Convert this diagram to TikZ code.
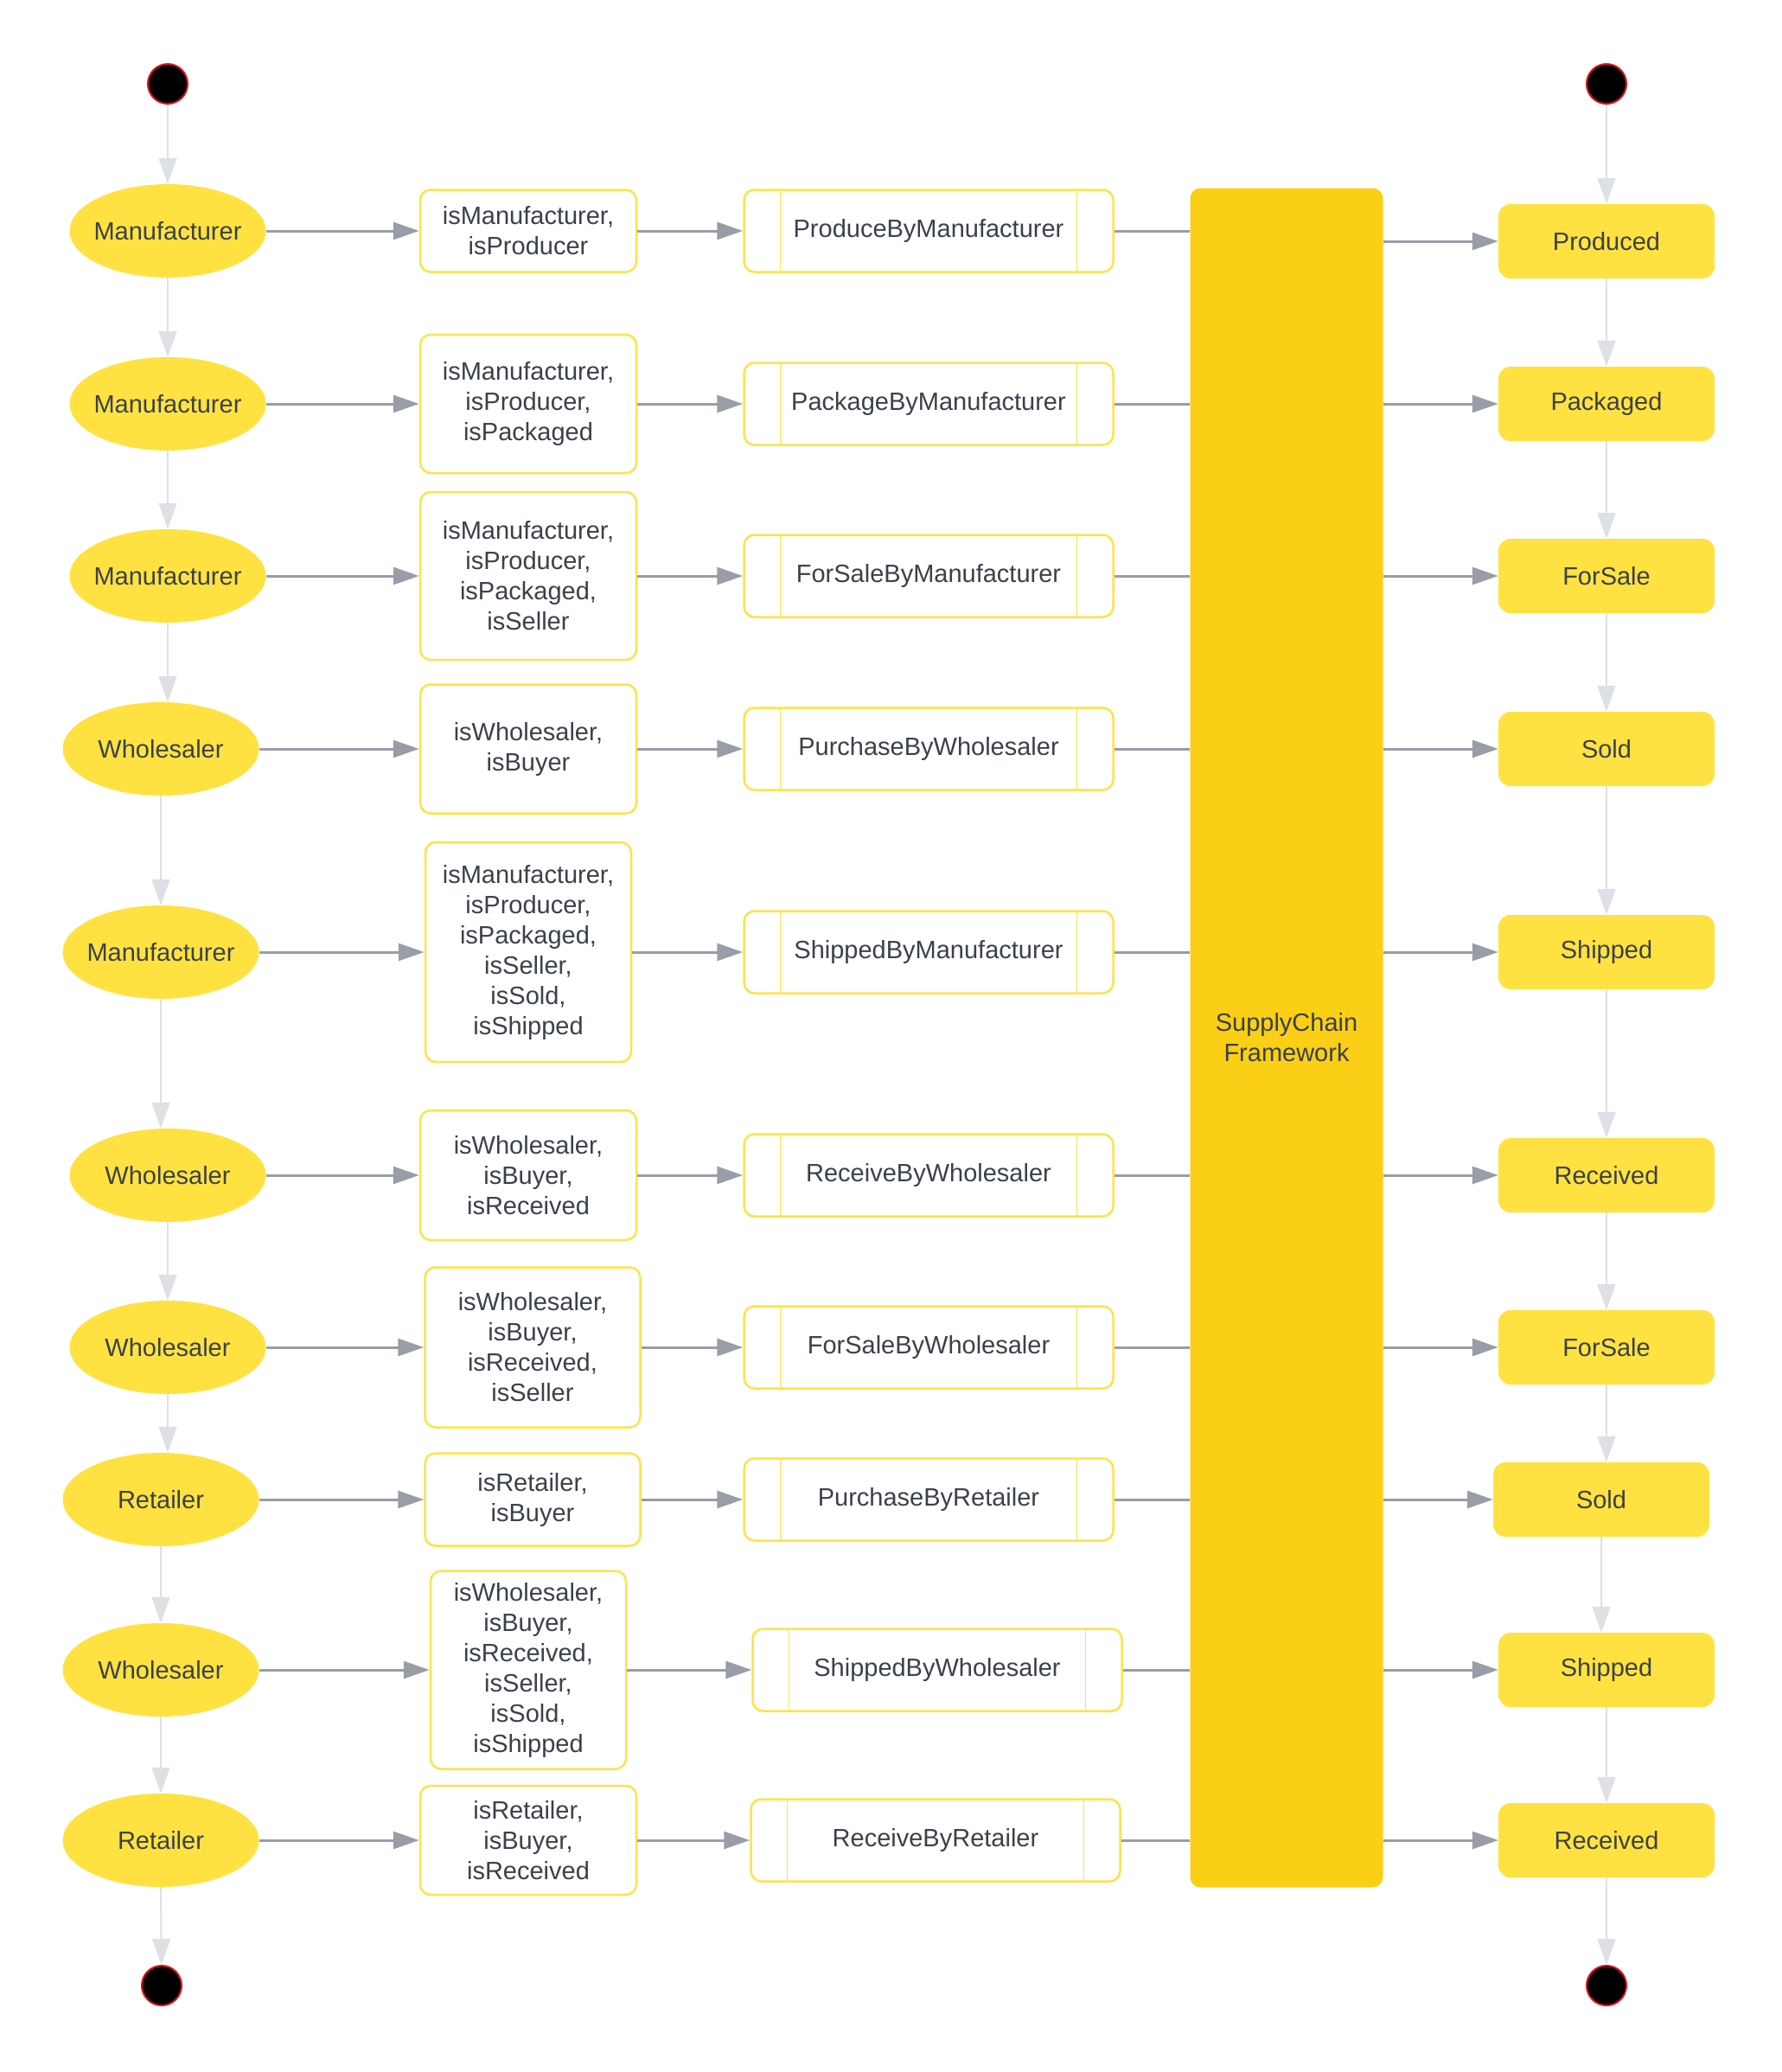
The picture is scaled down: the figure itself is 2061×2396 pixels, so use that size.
\documentclass[tikz,border=0pt]{standalone}
\usepackage{fontspec}
\setmainfont{Liberation Sans}
\usepackage{xcolor}
\usepackage{tikz}
\usetikzlibrary{arrows.meta}
\usetikzlibrary{shapes.geometric}
\definecolor{YellowFill}{HTML}{FFE241}
\definecolor{YellowBar}{HTML}{FACF16}
\definecolor{YellowEdge}{HTML}{FFE24A}
\definecolor{InkGrey}{HTML}{3A414A}
\definecolor{ArrowGrey}{HTML}{989DA7}
\definecolor{FlowGrey}{HTML}{DDE0E5}
\definecolor{DotRed}{HTML}{E3121A}

\tikzset{
  label font/.style = {font=\fontsize{29}{35}\selectfont, text=InkGrey},
  dot/.style = {circle, fill=black, draw=DotRed, line width=2pt, minimum size=46pt, inner sep=0pt},
  actor/.style = {ellipse, fill=YellowFill, minimum width=227pt, minimum height=108pt,
    inner xsep=-12pt, inner ysep=0pt, label font},
  guard/.style = {rectangle, rounded corners=12pt, draw=YellowEdge, line width=2.5pt, fill=white,
    align=center, inner sep=0pt, label font},
  txn/.style = {rectangle, rounded corners=12pt, draw=YellowEdge, line width=2.5pt, fill=white,
    minimum width=427pt, minimum height=95pt, inner sep=0pt, label font,
    path picture={
      \draw[YellowEdge, line width=1.5pt]
        ([xshift=42pt]path picture bounding box.north west) -- ([xshift=42pt]path picture bounding box.south west)
        ([xshift=-42pt]path picture bounding box.north east) -- ([xshift=-42pt]path picture bounding box.south east);}},
  framework/.style = {rectangle, rounded corners=12pt, fill=YellowBar, minimum width=223pt,
    minimum height=1965pt, align=center, label font},
  status/.style = {rectangle, rounded corners=14pt, fill=YellowFill, minimum width=250pt,
    minimum height=86pt, inner sep=0pt, label font},
  flow/.style = {draw=ArrowGrey, line width=3pt, -{Triangle[length=30pt, width=20pt]}},
  link/.style = {draw=ArrowGrey, line width=3pt},
  order/.style = {draw=FlowGrey, line width=2pt, -{Triangle[length=30pt, width=21pt]}}
}

\begin{document}
\begin{tikzpicture}[x=1pt, y=-1pt]
  \useasboundingbox (0,0) rectangle (2061,2396);

  % start and end points
  \node[dot] (begin1) at (194,97) {};
  \node[dot] (begin2) at (1858,97) {};
  \node[dot] (end1) at (187,2296) {};
  \node[dot] (end2) at (1858,2296) {};

  % actors
  \node[actor] (e1) at (194,267) {Manufacturer};
  \node[actor] (e2) at (194,467) {Manufacturer};
  \node[actor] (e3) at (194,666) {Manufacturer};
  \node[actor] (e4) at (186,866) {Wholesaler};
  \node[actor] (e5) at (186,1101) {Manufacturer};
  \node[actor] (e6) at (194,1359) {Wholesaler};
  \node[actor] (e7) at (194,1558) {Wholesaler};
  \node[actor] (e8) at (186,1734) {Retailer};
  \node[actor] (e9) at (186,1931) {Wholesaler};
  \node[actor] (e10) at (186,2128) {Retailer};

  % conditions
  \node[guard, minimum width=250pt, minimum height=95pt] (c1) at (611,267)
    {isManufacturer,\\isProducer};
  \node[guard, minimum width=250pt, minimum height=160pt] (c2) at (611,467)
    {isManufacturer,\\isProducer,\\isPackaged};
  \node[guard, minimum width=250pt, minimum height=194pt] (c3) at (611,666)
    {isManufacturer,\\isProducer,\\isPackaged,\\isSeller};
  \node[guard, minimum width=250pt, minimum height=149pt] (c4) at (611,866)
    {isWholesaler,\\isBuyer};
  \node[guard, minimum width=238pt, minimum height=254pt] (c5) at (611,1101)
    {isManufacturer,\\isProducer,\\isPackaged,\\isSeller,\\isSold,\\isShipped};
  \node[guard, minimum width=250pt, minimum height=150pt] (c6) at (611,1359)
    {isWholesaler,\\isBuyer,\\isReceived};
  \node[guard, minimum width=249pt, minimum height=185pt] (c7) at (616,1558)
    {isWholesaler,\\isBuyer,\\isReceived,\\isSeller};
  \node[guard, minimum width=249pt, minimum height=107pt] (c8) at (616,1734)
    {isRetailer,\\isBuyer};
  \node[guard, minimum width=226pt, minimum height=229pt] (c9) at (611,1931)
    {isWholesaler,\\isBuyer,\\isReceived,\\isSeller,\\isSold,\\isShipped};
  \node[guard, minimum width=250pt, minimum height=126pt] (c10) at (611,2128)
    {isRetailer,\\isBuyer,\\isReceived};

  % transactions
  \node[txn] (a1) at (1074,267) {ProduceByManufacturer};
  \node[txn] (a2) at (1074,467) {PackageByManufacturer};
  \node[txn] (a3) at (1074,666) {ForSaleByManufacturer};
  \node[txn] (a4) at (1074,866) {PurchaseByWholesaler};
  \node[txn] (a5) at (1074,1101) {ShippedByManufacturer};
  \node[txn] (a6) at (1074,1359) {ReceiveByWholesaler};
  \node[txn] (a7) at (1074,1558) {ForSaleByWholesaler};
  \node[txn] (a8) at (1074,1734) {PurchaseByRetailer};
  \node[txn] (a9) at (1084,1931) {ShippedByWholesaler};
  \node[txn] (a10) at (1082,2128) {ReceiveByRetailer};

  % framework bar
  \node[framework] (bar) at (1488,1200) {SupplyChain\\Framework};

  % states
  \node[status] (s1) at (1858,279) {Produced};
  \node[status] (s2) at (1858,467) {Packaged};
  \node[status] (s3) at (1858,666) {ForSale};
  \node[status] (s4) at (1858,866) {Sold};
  \node[status] (s5) at (1858,1101) {Shipped};
  \node[status] (s6) at (1858,1359) {Received};
  \node[status] (s7) at (1858,1558) {ForSale};
  \node[status] (s8) at (1852,1734) {Sold};
  \node[status] (s9) at (1858,1931) {Shipped};
  \node[status] (s10) at (1858,2128) {Received};

  % rows
  \foreach \i in {1,...,10} {
    \draw[flow] (e\i.east) -- (c\i.west);
    \draw[flow] (c\i.east) -- (a\i.west);
    \draw[link] (a\i.east) -- (a\i.east -| bar.west);
    \draw[flow] (bar.east |- s\i.west) -- (s\i.west);
  }

  % order of steps
  \draw[order] (begin1) -- (begin1 |- e1.north);
  \draw[order] (begin2) -- (begin2 |- s1.north);
  \foreach \i/\j in {1/2,2/3,3/4,4/5,5/6,6/7,7/8,8/9,9/10} {
    \draw[order] (e\i.south) -- (e\i.south |- e\j.north);
    \draw[order] (s\i.south) -- (s\i.south |- s\j.north);
  }
  \draw[order] (e10.south) -- (end1);
  \draw[order] (s10.south) -- (end2);

\end{tikzpicture}
\end{document}
